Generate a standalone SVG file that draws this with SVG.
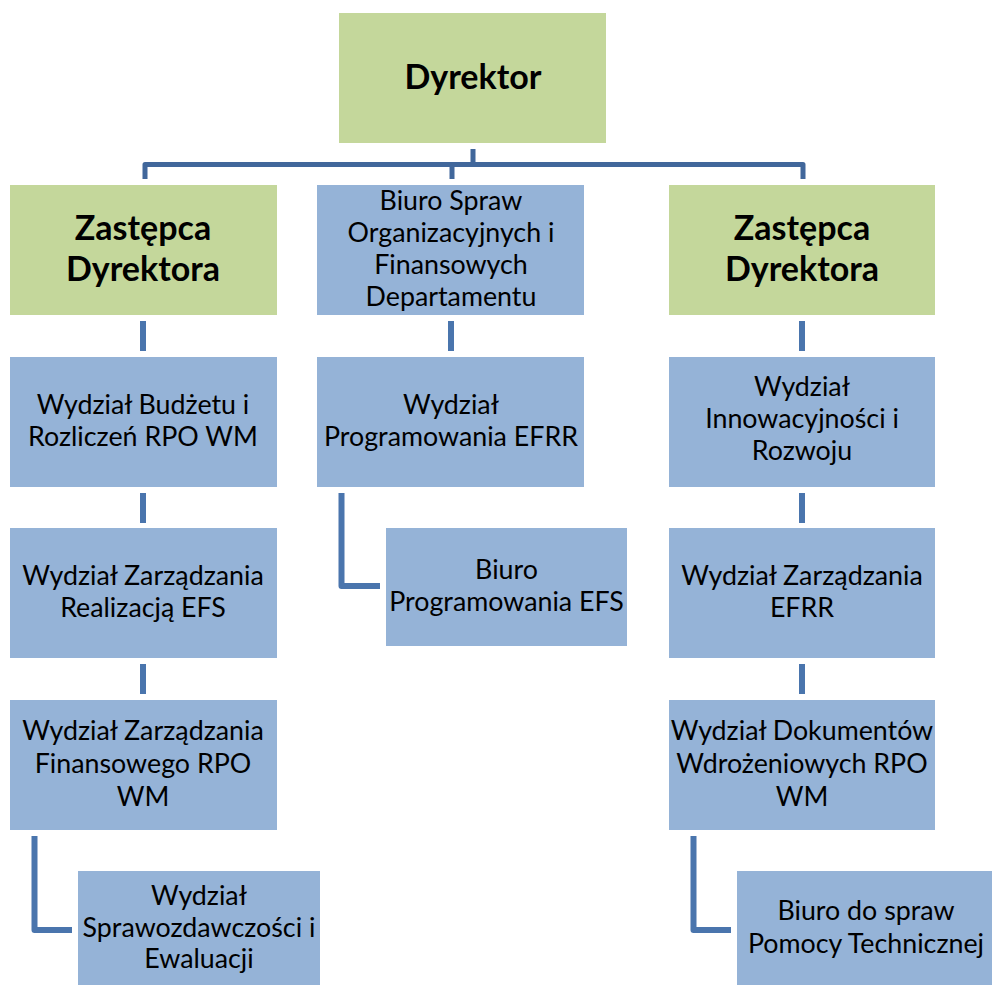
<svg xmlns="http://www.w3.org/2000/svg" width="998" height="985" viewBox="0 0 998 985">
<style>
.g{fill:#c4d79b}
.b{fill:#95b3d7}
.t{font-family:Lato,"Liberation Sans",sans-serif;font-size:26.8px;fill:#000;text-anchor:middle}
.h{font-family:Lato,"Liberation Sans",sans-serif;font-size:34px;font-weight:bold;fill:#000;text-anchor:middle}
.bus{fill:none;stroke:#41679b;stroke-width:5;stroke-linejoin:round}
.c{fill:none;stroke:#4a75ad;stroke-width:6;stroke-linejoin:round}
</style>
<rect width="998" height="985" fill="#fff"/>
<g id="connectors">
<path class="bus" d="M473 149V164.5M145 179V164.5H803V179M452 164.5V179"/>
<path class="c" d="M143 321V351M451 321V351M802 321V351"/>
<path class="c" d="M143 493V523M802 493V523"/>
<path class="c" d="M143 664V694M802 664V694"/>
<path class="c" d="M341.5 493V586H380"/>
<path class="c" d="M34.5 836V930H72"/>
<path class="c" d="M693.5 836V930H731"/>
</g>
<g id="dyrektor"><rect class="g" x="339" y="13" width="267" height="130"/><text class="h" x="473" y="89">Dyrektor</text></g>
<g id="zastepca1"><rect class="g" x="10" y="185" width="267" height="130"/><text class="h" x="143" y="240">Zastępca</text><text class="h" x="143" y="281">Dyrektora</text></g>
<g id="biuro-spraw"><rect class="b" x="317" y="185" width="267" height="130"/><text class="t" x="451" y="210">Biuro Spraw</text><text class="t" x="451" y="242">Organizacyjnych i</text><text class="t" x="451" y="274">Finansowych</text><text class="t" x="451" y="306">Departamentu</text></g>
<g id="zastepca2"><rect class="g" x="669" y="185" width="266" height="130"/><text class="h" x="802" y="240">Zastępca</text><text class="h" x="802" y="281">Dyrektora</text></g>
<g id="budzet"><rect class="b" x="10" y="357" width="267" height="130"/><text class="t" x="143" y="414">Wydział Budżetu i</text><text class="t" x="143" y="446">Rozliczeń RPO WM</text></g>
<g id="efrr-prog"><rect class="b" x="317" y="357" width="267" height="130"/><text class="t" x="451" y="414">Wydział</text><text class="t" x="451" y="446">Programowania EFRR</text></g>
<g id="innowacyjnosc"><rect class="b" x="669" y="357" width="266" height="130"/><text class="t" x="802" y="396">Wydział</text><text class="t" x="802" y="428">Innowacyjności i</text><text class="t" x="802" y="460">Rozwoju</text></g>
<g id="realizacja-efs"><rect class="b" x="10" y="528" width="267" height="130"/><text class="t" x="143" y="585">Wydział Zarządzania</text><text class="t" x="143" y="617">Realizacją EFS</text></g>
<g id="biuro-efs"><rect class="b" x="386" y="528" width="241" height="118"/><text class="t" x="506.5" y="579">Biuro</text><text class="t" x="506.5" y="611">Programowania EFS</text></g>
<g id="zarzadzanie-efrr"><rect class="b" x="669" y="528" width="266" height="130"/><text class="t" x="802" y="585">Wydział Zarządzania</text><text class="t" x="802" y="617">EFRR</text></g>
<g id="finansowy"><rect class="b" x="10" y="700" width="267" height="130"/><text class="t" x="143" y="740">Wydział Zarządzania</text><text class="t" x="143" y="773">Finansowego RPO</text><text class="t" x="143" y="806">WM</text></g>
<g id="dokumenty"><rect class="b" x="669" y="700" width="266" height="130"/><text class="t" x="802" y="740">Wydział Dokumentów</text><text class="t" x="802" y="773">Wdrożeniowych RPO</text><text class="t" x="802" y="806">WM</text></g>
<g id="sprawozdawczosc"><rect class="b" x="78" y="871" width="242" height="114"/><text class="t" x="199" y="905">Wydział</text><text class="t" x="199" y="937">Sprawozdawczości i</text><text class="t" x="199" y="968">Ewaluacji</text></g>
<g id="pomoc"><rect class="b" x="737" y="871" width="255" height="114"/><text class="t" x="866" y="920">Biuro do spraw</text><text class="t" x="866" y="953">Pomocy Technicznej</text></g>
</svg>
